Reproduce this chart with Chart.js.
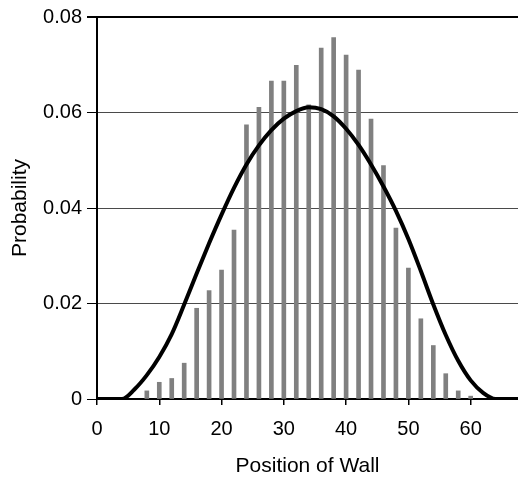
<!DOCTYPE html>
<html>
<head>
<meta charset="utf-8">
<script src="https://cdn.jsdelivr.net/npm/chart.js@4"></script>
<style>
    html, body { margin: 0; padding: 0; background: #ffffff; }
    #wrap { width: 518px; height: 479px; }
</style>
</head>
<body>
<div id="wrap"><canvas id="wallChart" width="518" height="479"></canvas></div>
<script>
// Histogram of wall positions (even positions only)
const wallPositions = [8, 10, 12, 14, 16, 18, 20, 22, 24, 26, 28, 30, 32, 34,
    36, 38, 40, 42, 44, 46, 48, 50, 52, 54, 56, 58, 60];
const barProbabilities = [0.0017, 0.0035, 0.0043, 0.0075, 0.0190, 0.0227, 0.0270, 0.0354,
    0.0574, 0.0611, 0.0666, 0.0666, 0.0699, 0.0616, 0.0735, 0.0757, 0.0720, 0.0689,
    0.0586, 0.0489, 0.0358, 0.0274, 0.0168, 0.0112, 0.0053, 0.0017, 0.0006];

// Smooth theoretical curve
const curveX = [0, 2, 4, 6, 8, 10, 12, 14, 16, 18, 20, 22, 24, 26, 28, 30, 32, 34,
    36, 38, 40, 42, 44, 46, 48, 50, 52, 54, 56, 58, 60, 62, 64, 66, 68];
const curveY = [0, 0, 0, 0.0020, 0.0050, 0.0088, 0.0136, 0.0198, 0.0263, 0.0326, 0.0386,
    0.0442, 0.0491, 0.0531, 0.0563, 0.0587, 0.0603, 0.0611, 0.0607, 0.0592, 0.0566,
    0.0532, 0.0491, 0.0445, 0.0394, 0.0335, 0.0268, 0.0198, 0.0134, 0.0080, 0.0039,
    0.0013, 0, 0, 0];

const yTicks = [0, 0.02, 0.04, 0.06, 0.08];
const xTicks = [0, 10, 20, 30, 40, 50, 60];

Chart.defaults.font.family = "'Liberation Sans', Arial, sans-serif";
Chart.defaults.color = '#000';

new Chart(document.getElementById('wallChart'), {
    type: 'bar',
    data: {
        datasets: [{
            type: 'line',
            data: curveX.map((x, i) => ({ x: x, y: curveY[i] })),
            borderColor: '#000',
            borderWidth: 4,
            pointRadius: 0,
            cubicInterpolationMode: 'monotone',
            fill: false,
            order: 0
        }, {
            type: 'bar',
            data: wallPositions.map((x, i) => ({ x: x, y: barProbabilities[i] })),
            backgroundColor: '#808080',
            barThickness: 4,
            order: 1
        }]
    },
    options: {
        responsive: false,
        animation: false,
        layout: { padding: { top: 17, right: 0, bottom: 0, left: 0 } },
        plugins: {
            legend: { display: false },
            tooltip: { enabled: false }
        },
        scales: {
            x: {
                type: 'linear',
                min: 0,
                max: 67.6,
                offset: false,
                afterFit: axis => { axis.height = 80; },
                afterBuildTicks: axis => {
                    axis.ticks = xTicks.map(v => ({ value: v }));
                },
                ticks: {
                    padding: 12,
                    maxRotation: 0,
                    font: { size: 20 }
                },
                grid: {
                    drawOnChartArea: false,
                    offset: false,
                    tickLength: 6,
                    tickColor: '#000',
                    lineWidth: 1.5
                },
                border: { display: true, color: '#000', width: 2 },
                title: {
                    display: true,
                    text: 'Position of Wall',
                    font: { size: 21 },
                    padding: { top: 4, bottom: 0 }
                }
            },
            y: {
                min: 0,
                max: 0.08,
                afterFit: axis => { axis.width = 97; },
                afterBuildTicks: axis => {
                    axis.ticks = yTicks.map(v => ({ value: v }));
                },
                ticks: {
                    padding: 5,
                    font: { size: 20 },
                    callback: v => v === 0 ? '0' : v.toFixed(2)
                },
                grid: {
                    color: ctx => ctx.tick && ctx.tick.value === 0.08 ? '#000' : '#4a4a4a',
                    lineWidth: ctx => ctx.tick && ctx.tick.value === 0.08 ? 2 : 1,
                    tickColor: '#000',
                    tickLength: 10
                },
                border: { display: true, color: '#000', width: 2 },
                title: {
                    display: true,
                    text: 'Probability',
                    font: { size: 21 },
                    padding: { top: 8, bottom: 0 }
                }
            }
        }
    }
});
</script>
</body>
</html>
